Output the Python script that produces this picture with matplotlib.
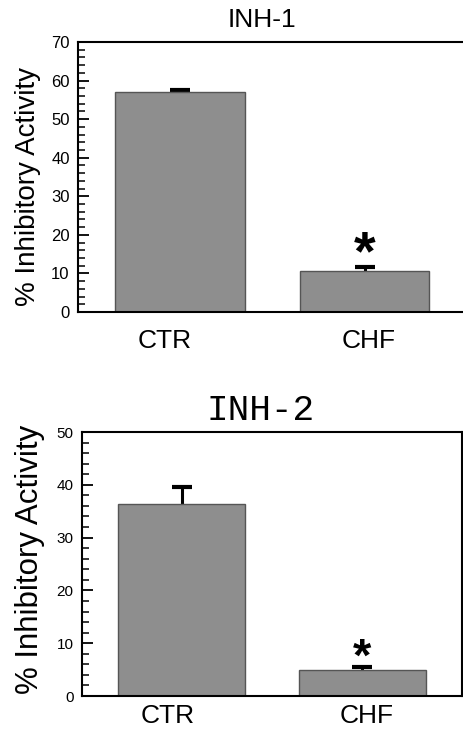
import matplotlib
matplotlib.use("Agg")
import matplotlib.pyplot as plt
from matplotlib.ticker import MultipleLocator
from matplotlib.transforms import ScaledTranslation

categories = ["CTR", "CHF"]
inh1_values = [57.0, 10.6]
inh1_err = [0.6, 1.1]
inh2_values = [36.3, 4.9]
inh2_err = [3.2, 0.6]
inh1_ticks = [0, 10, 20, 30, 40, 50, 60, 70]
inh2_ticks = [0, 10, 20, 30, 40, 50]

plt.rcParams['font.family'] = ['Liberation Sans', 'DejaVu Sans']

fig = plt.figure(figsize=(4.63, 7.31), dpi=100)

BAR = "#8e8e8e"
EDGE = "#555555"


def panel(rect, values, err, yticks, xlim, star_y, star_fs, label_dx, tick_fs, xfs, xpad):
    ax = fig.add_axes(rect)
    x = list(range(len(categories)))
    ax.errorbar(x, values, yerr=err, fmt="none", ecolor="black",
                elinewidth=2.2, capsize=7, capthick=3, zorder=1)
    ax.bar(x, values, width=0.70, color=BAR, edgecolor=EDGE, linewidth=1.0, zorder=2)
    ax.text(1, star_y, "*", ha="center", va="center", fontsize=star_fs, fontweight="bold",
            color="black")
    ax.set_xlim(*xlim)
    ax.set_ylim(yticks[0], yticks[-1])
    ax.set_yticks(yticks)
    ax.yaxis.set_minor_locator(MultipleLocator(2))
    ax.tick_params(axis="y", which="major", direction="in", length=8, width=1.3,
                   labelsize=tick_fs, pad=6, colors="black")
    ax.tick_params(axis="y", which="minor", direction="in", length=5, width=1.1)
    ax.tick_params(axis="x", length=0, labelsize=xfs, pad=xpad)
    ax.set_xticks(x)
    ax.set_xticklabels(categories)
    for lab, dx in zip(ax.get_xticklabels(), label_dx):
        lab.set_transform(lab.get_transform() + ScaledTranslation(dx / 100, 0, fig.dpi_scale_trans))
    for s in ax.spines.values():
        s.set_linewidth(1.5)
        s.set_color("black")
    return ax


ax1 = panel([78 / 463, 1 - 312 / 731, 393 / 463, 270 / 731], inh1_values, inh1_err,
            inh1_ticks, (-0.553, 1.577), 14.6, 40, [-15, 4], 12, 19, 12)
ax2 = panel([82 / 463, 1 - 696 / 731, 380 / 463, 264 / 731], inh2_values, inh2_err,
            inh2_ticks, (-0.55, 1.55), 7.0, 34, [-14, 4], 11, 19, 6)

fig.text(262 / 463, 1 - 20 / 731, "INH-1", ha="center", va="center", fontsize=19)
fig.text(261 / 463, 1 - 411 / 731, "INH-2", ha="center", va="center", fontsize=26,
         family=["Liberation Mono", "DejaVu Sans Mono"])

fig.text(28 / 463, 1 - 187 / 731, "% Inhibitory Activity", rotation=90,
         ha="center", va="center", fontsize=20)
fig.text(30 / 463, 1 - 559 / 731, "% Inhibitory Activity", rotation=90,
         ha="center", va="center", fontsize=22.5)

fig.savefig("out.png", dpi=100)
